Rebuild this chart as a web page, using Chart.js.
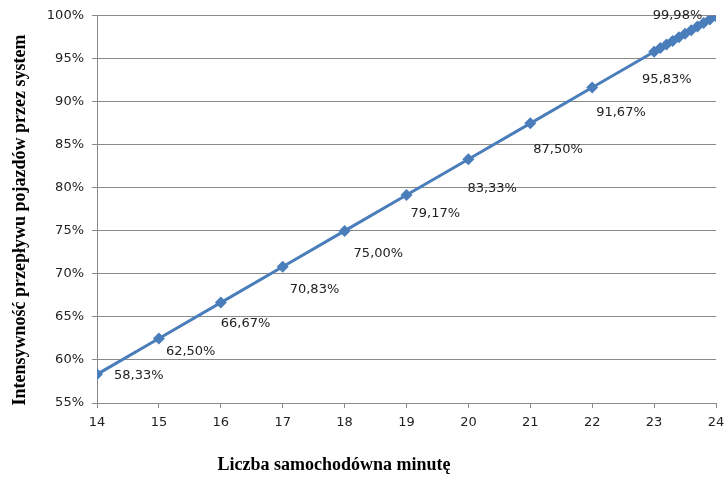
<!DOCTYPE html>
<html>
<head>
<meta charset="utf-8">
<script src="https://cdn.jsdelivr.net/npm/chart.js@4"></script>
<style>
  html, body { margin: 0; padding: 0; background: #fff; }
  #wrap { width: 725px; height: 480px; }
</style>
</head>
<body>
<div id="wrap"><canvas id="chart"></canvas></div>
<script>
// cars per minute and share of vehicles passed through the system (%)
var carsPerMinute = [14, 15, 16, 17, 18, 19, 20, 21, 22, 23,
  23.1, 23.2, 23.3, 23.4, 23.5, 23.6, 23.7, 23.8, 23.9, 23.995];
var flowShare = [58.33, 62.50, 66.67, 70.83, 75.00, 79.17, 83.33, 87.50, 91.67, 95.83,
  96.25, 96.67, 97.08, 97.50, 97.92, 98.33, 98.75, 99.17, 99.58, 99.98];
// which points get a value label
var labelled = [0, 1, 2, 3, 4, 5, 6, 7, 8, 9, 19];
var xTicks = [14, 15, 16, 17, 18, 19, 20, 21, 22, 23, 24];

var xTitle = "Liczba samochodówna minutę";
var yTitle = "Intensywność przepływu pojazdów przez system";

function pl(v) {
  return v.toFixed(2).replace(".", ",") + "%";
}

// hand-placed label offsets from the marker (left edge, vertical middle)
var labelShift = {
  0: [17, 1], 1: [7, 13], 2: [0, 21], 3: [7, 23], 4: [9, 23], 5: [4, 19],
  6: [-1, 29], 7: [3, 26], 8: [4, 25], 9: [-12, 28], 19: [-63, 0]
};

var valueLabels = {
  id: "valueLabels",
  afterDatasetsDraw: function (chart) {
    var ctx = chart.ctx;
    var meta = chart.getDatasetMeta(0);
    ctx.save();
    ctx.font = "13px 'DejaVu Sans'";
    ctx.fillStyle = "#222";
    ctx.textAlign = "left";
    ctx.textBaseline = "middle";
    labelled.forEach(function (i) {
      var p = meta.data[i];
      var s = labelShift[i];
      ctx.fillText(pl(flowShare[i]), p.x + s[0], p.y + s[1]);
    });
    ctx.restore();
  }
};

// both axis captions, placed by hand (neither is centred on its axis)
var axisCaptions = {
  id: "axisCaptions",
  afterDraw: function (chart) {
    var ctx = chart.ctx;
    ctx.save();
    ctx.font = "bold 18px 'Liberation Serif'";
    ctx.fillStyle = "#000";
    ctx.textAlign = "center";
    ctx.textBaseline = "middle";
    ctx.fillText(xTitle, 334, 465);
    ctx.translate(20, 220);
    ctx.rotate(-Math.PI / 2);
    ctx.fillText(yTitle, 0, 0);
    ctx.restore();
  }
};

var pts = carsPerMinute.map(function (x, i) { return { x: x, y: flowShare[i] }; });

new Chart(document.getElementById("chart"), {
  type: "line",
  data: {
    datasets: [{
      data: pts,
      borderColor: "#4a7ebb",
      backgroundColor: "#4a7ebb",
      borderWidth: 3,
      pointStyle: "rectRot",
      pointRadius: 6,
      pointBorderWidth: 0,
      tension: 0
    }]
  },
  options: {
    responsive: true,
    maintainAspectRatio: false,
    animation: false,
    layout: { padding: { top: 15, right: 0 } },
    plugins: { legend: { display: false }, tooltip: { enabled: false } },
    scales: {
      x: {
        type: "linear",
        min: 14,
        max: 24,
        afterBuildTicks: function (s) { s.ticks = xTicks.map(function (v) { return { value: v }; }); },
        afterFit: function (s) { s.height = 77; s.paddingRight = 9; },
        grid: { drawOnChartArea: false, tickLength: 5, color: "#8a8a8a" },
        border: { color: "#8a8a8a" },
        ticks: { padding: 7, color: "#222", font: { family: "DejaVu Sans", size: 13 } }
      },
      y: {
        min: 55,
        max: 100,
        afterFit: function (s) { s.width = 97; },
        grid: { tickLength: 5, color: "#8a8a8a" },
        border: { color: "#8a8a8a" },
        ticks: {
          stepSize: 5,
          padding: 8,
          color: "#222",
          font: { family: "DejaVu Sans", size: 13 },
          callback: function (v) { return v + "%"; }
        }
      }
    }
  },
  plugins: [valueLabels, axisCaptions]
});
</script>
</body>
</html>
